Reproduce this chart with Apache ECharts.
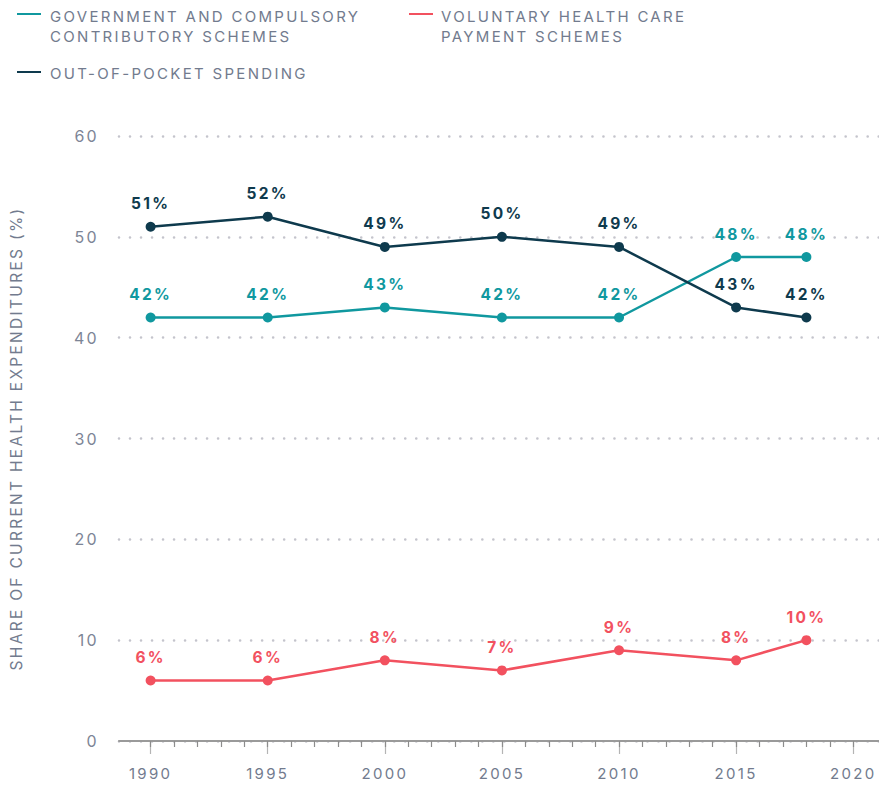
<!DOCTYPE html>
<html>
<head>
<meta charset="utf-8">
<script src="https://cdn.jsdelivr.net/npm/echarts@6/dist/echarts.min.js"></script>
<style>
  html, body { margin: 0; padding: 0; background: #fff; }
  #chart { width: 879px; height: 789px; }
  #chart text { letter-spacing: 2.3px; }
</style>
</head>
<body>
<div id="chart"></div>
<script>
var years = [1990, 1995, 2000, 2005, 2010, 2015, 2018];
var govValues = [42, 42, 43, 42, 42, 48, 48];
var voluntaryValues = [6, 6, 8, 7, 9, 8, 10];
var oopValues = [51, 52, 49, 50, 49, 43, 42];
var yearTicks = [1990, 1995, 2000, 2005, 2010, 2015, 2020];
var minorTicks = [];
for (var y = 1990; y <= 2020; y++) minorTicks.push(y);

var seriesNames = ['GOVERNMENT AND COMPULSORY\nCONTRIBUTORY SCHEMES', 'VOLUNTARY HEALTH CARE\nPAYMENT SCHEMES', 'OUT-OF-POCKET SPENDING'];
var colors = ['#10989f', '#f2515f', '#0e3a4d'];

var FONT = 'Inter, "Noto Sans", sans-serif';
var GRAY = '#727b8e';

function pairs(vals) {
  return years.map(function (yr, i) { return [yr, vals[i]]; });
}

function makeSeries(name, vals, color) {
  return {
    name: name,
    type: 'line',
    data: pairs(vals),
    symbol: 'circle',
    symbolSize: 10,
    lineStyle: { color: color, width: 2.5 },
    itemStyle: { color: color },
    label: {
      show: true,
      position: 'top',
      distance: 10,
      color: color,
      fontFamily: FONT,
      fontWeight: 'bold',
      fontSize: 15.5,
      formatter: function (p) { return p.value[1] + '%'; }
    },
    z: 3
  };
}

var chart = echarts.init(document.getElementById('chart'), null, { renderer: 'svg' });
chart.setOption({
  animation: false,
  grid: { left: 119, right: 0, top: 136, bottom: 48 },
  xAxis: [{
    type: 'value',
    min: 1988.65,
    max: 2021.1,
    axisLine: { show: true, lineStyle: { color: '#9a9a9a', width: 2 } },
    axisTick: { show: true, length: 13, customValues: yearTicks, lineStyle: { color: '#b4b4b4', width: 1.2 } },
    axisLabel: {
      customValues: yearTicks, margin: 25, color: GRAY, fontFamily: FONT, fontSize: 15,
      formatter: function (v) { return String(v); }
    },
    splitLine: { show: false }
  }, {
    type: 'value',
    min: 1988.65,
    max: 2021.1,
    position: 'bottom',
    axisLine: { show: false },
    axisTick: { show: true, length: 6, customValues: minorTicks, lineStyle: { color: '#8c8c8c', width: 1.2 } },
    axisLabel: { show: false },
    splitLine: { show: false }
  }],
  yAxis: {
    type: 'value',
    min: 0,
    max: 60,
    interval: 10,
    axisLine: { show: false },
    axisTick: { show: false },
    axisLabel: { color: '#7d8596', fontFamily: FONT, fontSize: 16, margin: 20 },
    splitLine: { show: true, lineStyle: { color: '#c4c4cc', type: [0.01, 11], width: 2.6, cap: 'round' } },
    name: 'SHARE OF CURRENT HEALTH EXPENDITURES (%)',
    nameLocation: 'middle',
    nameGap: 95,
    nameRotate: 90,
    nameTextStyle: { color: GRAY, fontFamily: FONT, fontSize: 15.5 }
  },
  series: [
    makeSeries(seriesNames[0], govValues, colors[0]),
    makeSeries(seriesNames[1], voluntaryValues, colors[1]),
    makeSeries(seriesNames[2], oopValues, colors[2])
  ],
  graphic: [
    { type: 'line', shape: { x1: 17, y1: 14, x2: 41, y2: 14 }, style: { stroke: colors[0], lineWidth: 2 } },
    { type: 'text', left: 50, top: 6, style: { text: seriesNames[0], fill: GRAY, font: '15px ' + FONT, lineHeight: 20 } },
    { type: 'line', shape: { x1: 409, y1: 14, x2: 433, y2: 14 }, style: { stroke: colors[1], lineWidth: 2 } },
    { type: 'text', left: 441, top: 6, style: { text: seriesNames[1], fill: GRAY, font: '15px ' + FONT, lineHeight: 20 } },
    { type: 'line', shape: { x1: 17, y1: 72, x2: 41, y2: 72 }, style: { stroke: colors[2], lineWidth: 2 } },
    { type: 'text', left: 50, top: 63, style: { text: seriesNames[2], fill: GRAY, font: '15px ' + FONT, lineHeight: 20 } }
  ]
});
</script>
</body>
</html>
